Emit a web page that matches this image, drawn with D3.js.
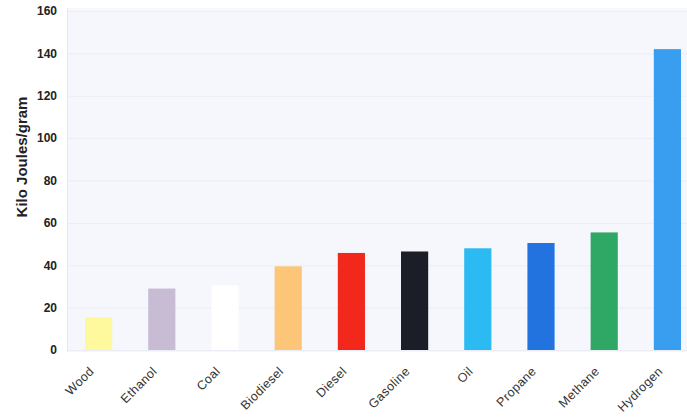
<!DOCTYPE html>
<html>
<head>
<meta charset="utf-8">
<script src="https://cdn.jsdelivr.net/npm/d3@7/dist/d3.min.js"></script>
<style>
  html, body { margin: 0; padding: 0; background: #ffffff; }
  svg { display: block; }
</style>
</head>
<body>
<svg id="chart" width="687" height="417"></svg>
<script>
// Energy density of common fuels
const fuels = ["Wood", "Ethanol", "Coal", "Biodiesel", "Diesel", "Gasoline", "Oil", "Propane", "Methane", "Hydrogen"];
const kjPerGram = [15.5, 29, 30.5, 39.5, 45.8, 46.5, 48, 50.5, 55.5, 142];
const barColors = ["#fdf99c", "#c8bcd4", "#ffffff", "#fcc577", "#f2281d", "#1b1d27", "#2bbaf2", "#2273e0", "#30a865", "#3a9ef0"];
const yTicks = [0, 20, 40, 60, 80, 100, 120, 140, 160];

const svg = d3.select("#chart");
const plot = { left: 67, right: 699, top: 11, bottom: 350 };

const x = d3.scaleBand()
  .domain(fuels)
  .range([plot.left, plot.right])
  .paddingInner(0.57)
  .paddingOuter(0.285);

const y = d3.scaleLinear()
  .domain([0, 160])
  .range([plot.bottom, plot.top]);

// plot background
svg.append("rect")
  .attr("x", plot.left + 1)
  .attr("y", plot.top - 3)
  .attr("width", 687 - plot.left)
  .attr("height", plot.bottom - plot.top + 5)
  .attr("fill", "#f6f7fc");

// horizontal grid
svg.append("g")
  .selectAll("line")
  .data(yTicks)
  .join("line")
  .attr("x1", plot.left + 1)
  .attr("x2", 687)
  .attr("y1", d => y(d) + 0.5)
  .attr("y2", d => y(d) + 0.5)
  .attr("stroke", "#ebedf6")
  .attr("stroke-width", 1);

// left edge of plot
svg.append("line")
  .attr("x1", plot.left + 0.5).attr("x2", plot.left + 0.5)
  .attr("y1", plot.top - 3).attr("y2", plot.bottom + 2)
  .attr("stroke", "#e6e8f2");

// bars
svg.append("g")
  .selectAll("rect")
  .data(fuels)
  .join("rect")
  .attr("x", d => x(d))
  .attr("width", x.bandwidth())
  .attr("y", (d, i) => y(kjPerGram[i]))
  .attr("height", (d, i) => y(0) - y(kjPerGram[i]))
  .attr("fill", (d, i) => barColors[i]);

// y axis
const yAxis = svg.append("g")
  .attr("transform", `translate(${plot.left},0)`)
  .call(d3.axisLeft(y).tickValues(yTicks).tickSize(0).tickPadding(10));
yAxis.select(".domain").remove();
yAxis.selectAll("text")
  .attr("font-family", "'Liberation Sans', Arial, sans-serif")
  .attr("font-size", 12)
  .attr("font-weight", "bold")
  .attr("fill", "#222");

// x axis labels
const xAxis = svg.append("g")
  .attr("transform", `translate(0,${plot.bottom})`)
  .call(d3.axisBottom(x).tickSize(0).tickPadding(0));
xAxis.select(".domain").remove();
xAxis.selectAll("text")
  .attr("font-family", "'Liberation Sans', Arial, sans-serif")
  .attr("font-size", 12.5)
  .attr("letter-spacing", 0.4)
  .attr("fill", "#333")
  .attr("text-anchor", "end")
  .attr("y", 0)
  .attr("dy", 0)
  .attr("transform", "translate(-4,22) rotate(-45)");

// y axis title
svg.append("text")
  .attr("transform", "translate(27,157) rotate(-90)")
  .attr("text-anchor", "middle")
  .attr("font-family", "'Liberation Sans', Arial, sans-serif")
  .attr("font-size", 15)
  .attr("font-weight", "bold")
  .attr("fill", "#222")
  .text("Kilo Joules/gram");
</script>
</body>
</html>
